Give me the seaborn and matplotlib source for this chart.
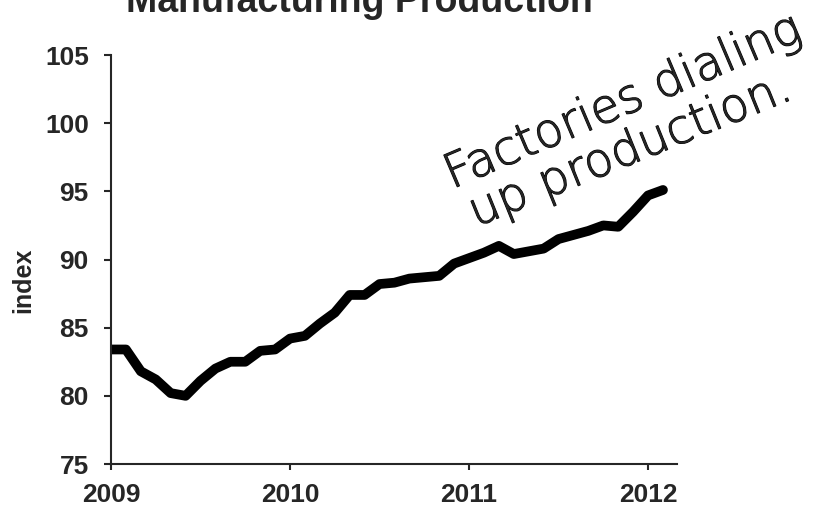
import pandas as pd
import seaborn as sns
import matplotlib.pyplot as plt
import matplotlib.patheffects as pe

# monthly index, Jan 2009 .. Feb 2012
months = pd.date_range("2009-01-01", "2012-02-01", freq="MS")
index_values = [83.4, 83.4, 81.8, 81.2, 80.2, 80.0, 81.1, 82.0, 82.5, 82.5,
                83.3, 83.4, 84.2, 84.4, 85.3, 86.1, 87.4, 87.4, 88.2, 88.3,
                88.6, 88.7, 88.8, 89.7, 90.1, 90.5, 91.0, 90.4, 90.6, 90.8,
                91.5, 91.8, 92.1, 92.5, 92.4, 93.5, 94.7, 95.1]
year_ticks = [2009, 2010, 2011, 2012]
y_ticks = [75, 80, 85, 90, 95, 100, 105]

title = "Manufacturing Production"
note_line1 = "Factories dialing"
note_line2 = "up production."

df = pd.DataFrame({
    "year": months.year + (months.month - 1) / 12,
    "index": index_values,
})

sns.set_style("ticks")
plt.rcParams["font.family"] = ["Liberation Sans", "DejaVu Sans"]

fig = plt.figure(figsize=(8.4, 5.11), dpi=100)
ax = fig.add_axes([111 / 840, 1 - 464 / 511, (676.7 - 111) / 840, (464 - 55) / 511])

sns.lineplot(data=df, x="year", y="index", color="black", linewidth=7, ax=ax,
             solid_capstyle="round", solid_joinstyle="round")

ax.set_xlim(2009, 2012.16)
ax.set_ylim(75, 105)
ax.set_xticks(year_ticks)
ax.set_yticks(y_ticks)
ax.set_xlabel("")
ax.set_ylabel("")
sns.despine(ax=ax)
for side in ["left", "bottom"]:
    ax.spines[side].set_linewidth(1.5)
ax.tick_params(axis="x", length=4.5, width=1.5, pad=9, labelsize=19)
ax.tick_params(axis="y", length=5, width=1.5, pad=11, labelsize=19)
for lab in ax.get_xticklabels() + ax.get_yticklabels():
    lab.set_fontweight("bold")

fig.text(359.5 / 840, 1 - 11.7 / 511, title, ha="center", va="baseline",
         fontsize=27, fontweight="bold")
fig.text(23 / 840, 1 - 280 / 511, "index", rotation=90, ha="center", va="center",
         fontsize=18, fontweight="bold")

# handwritten note (thin font, thickened a little like a pen stroke)
pen = [pe.withStroke(linewidth=0.8, foreground="black")]
fig.text(452 / 840, 1 - 189 / 511, note_line1, rotation=23, rotation_mode="anchor",
         ha="left", va="baseline", fontsize=34, fontweight="light",
         family=["DejaVu Sans"], path_effects=pen)
fig.text(476 / 840, 1 - 227 / 511, note_line2, rotation=22, rotation_mode="anchor",
         ha="left", va="baseline", fontsize=34, fontweight="light",
         family=["DejaVu Sans"], path_effects=pen)

fig.savefig("out.png", dpi=100)
plt.close(fig)
